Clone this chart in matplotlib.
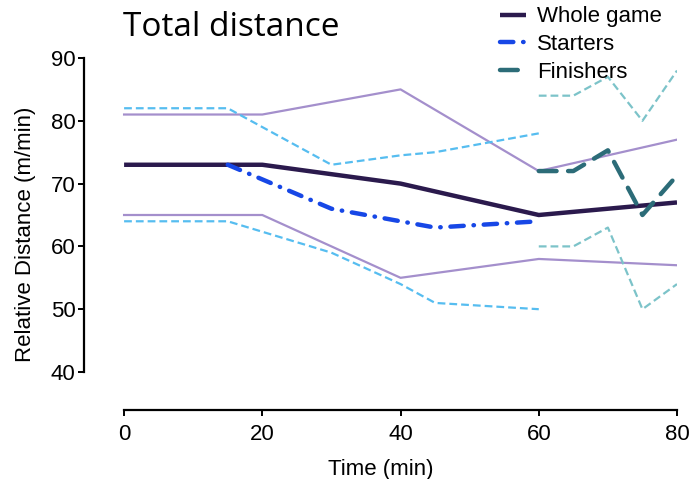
import matplotlib.pyplot as plt
import numpy as np

# whole game (mean and range)
t_whole = [0, 20, 40, 60, 80]
whole_mean = [73, 73, 70, 65, 67]
whole_hi = [81, 81, 85, 72, 77]
whole_lo = [65, 65, 55, 58, 57]

# starters
t_start = [0, 15, 30, 40, 45, 60]
start_mean = [73, 73, 66, 64, 63, 64]
start_hi = [82, 82, 73, 74.5, 75, 78]
start_lo = [64, 64, 59, 54, 51, 50]

# finishers
t_fin = [60, 65, 70, 75, 80]
fin_mean = [72, 72, 75.3, 65, 71.3]
fin_hi = [84, 84, 87, 80, 88]
fin_lo = [60, 60, 63, 50, 54]

plt.rcParams['font.family'] = ['Liberation Sans', 'DejaVu Sans']

fig = plt.figure(figsize=(6.92, 4.79), dpi=100)
ax = fig.add_axes([84/692, 1-410/479, (677-84)/692, (410-58)/479])

c_whole, c_whole_b = '#2b1a4d', '#a48fcc'
c_start, c_start_b = '#1747e6', '#56bdf0'
c_fin, c_fin_b = '#2c6c78', '#7cc3c9'

ax.plot(t_whole, whole_hi, color=c_whole_b, lw=1.6)
ax.plot(t_whole, whole_lo, color=c_whole_b, lw=1.6)
ax.plot(t_start, start_hi, color=c_start_b, lw=1.6, dashes=(3.5, 1.8))
ax.plot(t_start, start_lo, color=c_start_b, lw=1.6, dashes=(3.5, 1.8))
ax.plot(t_fin, fin_hi, color=c_fin_b, lw=1.6, dashes=(3.5, 1.8))
ax.plot(t_fin, fin_lo, color=c_fin_b, lw=1.6, dashes=(3.5, 1.8))

l1, = ax.plot(t_whole, whole_mean, color=c_whole, lw=3.2, solid_capstyle='butt', zorder=4)
l2, = ax.plot(t_start[1:], start_mean[1:], color=c_start, lw=3.2, dashes=(3, 2.2, 0.1, 2.2),
              dash_capstyle='round', zorder=5)
l3, = ax.plot(t_fin, fin_mean, color=c_fin, lw=3.2, dashes=(4, 2.6),
              dash_capstyle='round', zorder=5)

ax.set_xlim(-5.8, 80)
ax.set_ylim(33.95, 90)
ax.set_xticks([0, 20, 40, 60, 80])
ax.set_yticks([40, 50, 60, 70, 80, 90])
ax.spines['top'].set_visible(False)
ax.spines['right'].set_visible(False)
ax.spines['left'].set_bounds(40, 90)
ax.spines['bottom'].set_bounds(0, 80)
ax.spines['left'].set_linewidth(1.6)
ax.spines['bottom'].set_linewidth(1.6)
ax.tick_params(labelsize=16, length=4, width=1.4)
ax.tick_params(axis='x', pad=6)
ax.tick_params(axis='y', pad=2)
ax.set_xlabel('Time (min)', fontsize=16, labelpad=10)
ax.set_ylabel('Relative Distance (m/min)', fontsize=16, labelpad=11)

fig.text(123/692, 1-36/479, 'Total distance', fontsize=24, family='Open Sans',
         ha='left', va='baseline')

fig.legend([l1, l2, l3], ['Whole game', 'Starters', 'Finishers'],
           loc='upper left', bbox_to_anchor=(497/692, 1 - 3/479), frameon=False,
           fontsize=16, handlelength=1.15, handletextpad=0.5, labelspacing=0.3,
           borderaxespad=0, borderpad=0.15)

fig.savefig('out.png', dpi=100)
